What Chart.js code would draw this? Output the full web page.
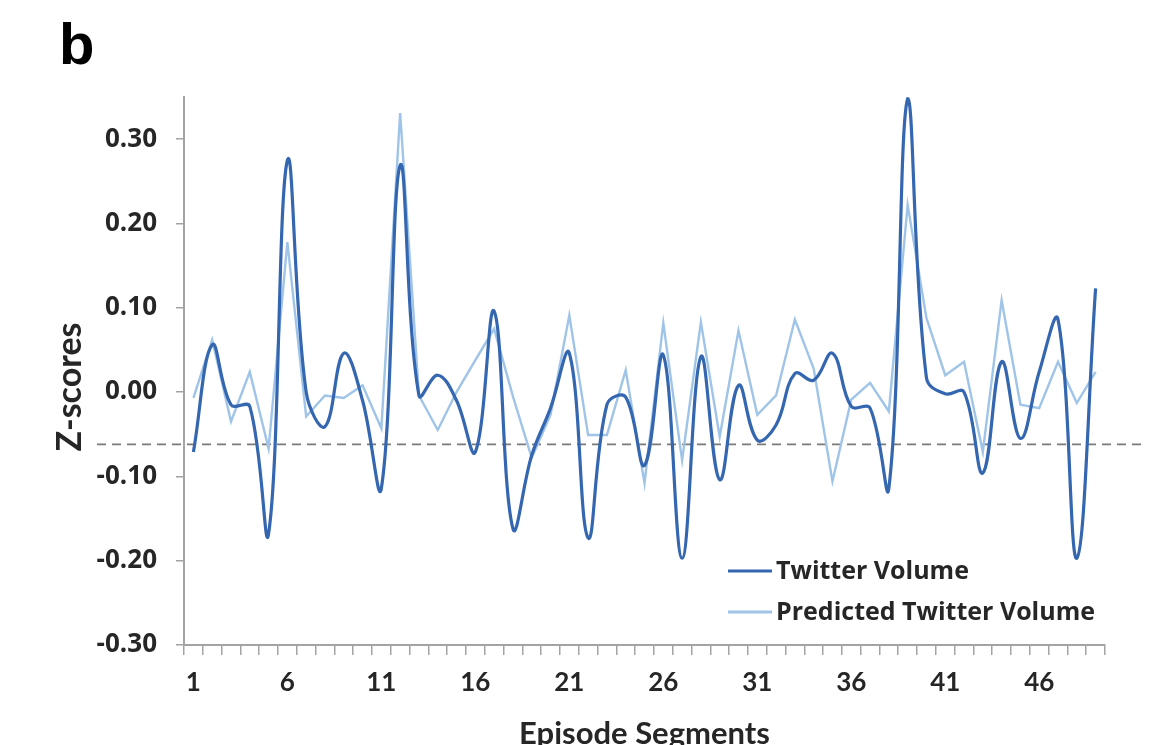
<!DOCTYPE html>
<html>
<head>
<meta charset="utf-8">
<script src="https://cdn.jsdelivr.net/npm/chart.js@4.4.1/dist/chart.umd.min.js"></script>
<style>
  html, body { margin: 0; padding: 0; background: #ffffff; }
  #wrap { width: 1154px; height: 745px; position: relative; }
</style>
</head>
<body>
<div id="wrap"><canvas id="chart" width="1154" height="745"></canvas></div>
<script>
// Episode segment numbers (x categories)
const segments = [];
for (let i = 1; i <= 49; i++) segments.push(String(i));

// Observed Twitter volume, z-scores per segment
const twitterVolume = [
  -0.071, 0.056, -0.015, -0.017, -0.168, 0.275, 0.000, -0.041, 0.046, -0.010,
  -0.114, 0.269, -0.004, 0.020, -0.010, -0.071, 0.096, -0.162, -0.075, -0.019,
  0.046, -0.173, -0.015, -0.006, -0.087, 0.044, -0.197, 0.042, -0.104, 0.008,
  -0.057, -0.039, 0.022, 0.014, 0.046, -0.017, -0.019, -0.114, 0.348, 0.017,
  -0.002, 0.000, -0.096, 0.036, -0.055, 0.024, 0.086, -0.197, 0.123
];

// Model-predicted Twitter volume, z-scores per segment
const predictedVolume = [
  -0.007, 0.062, -0.035, 0.024, -0.067, 0.178, -0.029, -0.004, -0.007, 0.008,
  -0.043, 0.331, -0.004, -0.045, 0.000, 0.038, 0.075, -0.005, -0.078, -0.027,
  0.091, -0.051, -0.051, 0.026, -0.108, 0.082, -0.081, 0.083, -0.053, 0.073,
  -0.027, -0.004, 0.086, 0.028, -0.106, -0.009, 0.011, -0.023, 0.222, 0.088,
  0.020, 0.036, -0.071, 0.109, -0.015, -0.019, 0.036, -0.013, 0.024
];

// Y-axis tick values
const yTickValues = [-0.30, -0.20, -0.10, 0.00, 0.10, 0.20, 0.30];

// Reference threshold drawn as a dashed horizontal line
const thresholdValue = -0.062;

// Label shown every fifth segment
const labelStep = 5;

const DARK = '#3566b0';
const LIGHT = '#9fc4e8';
const AXIS = '#a3a3a3';
const TEXT = '#262626';

const thresholdLine = {
  id: 'thresholdLine',
  beforeDatasetsDraw(chart) {
    const { ctx, scales: { y } } = chart;
    const py = y.getPixelForValue(thresholdValue);
    ctx.save();
    ctx.strokeStyle = '#7a7a7a';
    ctx.lineWidth = 1.6;
    ctx.setLineDash([9, 6]);
    ctx.beginPath();
    ctx.moveTo(97, py);
    ctx.lineTo(1143, py);
    ctx.stroke();
    ctx.restore();
  }
};

// Panel letter and rotated y-axis caption
const panelText = {
  id: 'panelText',
  afterDraw(chart) {
    const ctx = chart.ctx;
    ctx.save();
    ctx.fillStyle = '#000';
    ctx.font = 'bold 58px "Liberation Sans", Arial, sans-serif';
    ctx.textBaseline = 'alphabetic';
    ctx.textAlign = 'left';
    ctx.fillText('b', 59, 64);

    ctx.translate(70, 387);
    ctx.rotate(-Math.PI / 2);
    ctx.fillStyle = TEXT;
    ctx.font = 'bold 34px Lato, sans-serif';
    ctx.textAlign = 'center';
    ctx.textBaseline = 'middle';
    ctx.fillText('Z-scores', 0, 0);
    ctx.restore();
  }
};

const insetLegend = {
  id: 'insetLegend',
  afterDatasetsDraw(chart) {
    const ctx = chart.ctx;
    const rows = [571, 612];
    ctx.save();
    ctx.font = 'bold 25px "Open Sans", sans-serif';
    ctx.textBaseline = 'middle';
    ctx.textAlign = 'left';
    chart.data.datasets.forEach((ds, i) => {
      const yy = rows[i];
      ctx.strokeStyle = ds.borderColor;
      ctx.lineWidth = 3.2;
      ctx.setLineDash([]);
      ctx.beginPath();
      ctx.moveTo(728, yy);
      ctx.lineTo(772, yy);
      ctx.stroke();
      ctx.fillStyle = TEXT;
      ctx.fillText(ds.label, 776, yy + 1);
    });
    ctx.restore();
  }
};

new Chart(document.getElementById('chart'), {
  type: 'line',
  data: {
    labels: segments,
    datasets: [
      {
        label: 'Twitter Volume',
        data: twitterVolume,
        borderColor: DARK,
        borderWidth: 3.2,
        pointRadius: 0,
        tension: 0.4,
        fill: false
      },
      {
        label: 'Predicted Twitter Volume',
        data: predictedVolume,
        borderColor: LIGHT,
        borderWidth: 2.4,
        pointRadius: 0,
        tension: 0,
        fill: false
      }
    ]
  },
  options: {
    responsive: false,
    animation: false,
    events: [],
    layout: { padding: { top: 97, right: 49, bottom: 0, left: 0 } },
    plugins: {
      legend: { display: false },
      tooltip: { enabled: false },
      title: { display: false }
    },
    scales: {
      x: {
        type: 'category',
        offset: true,
        afterFit(scale) { scale.height = 100; },
        grid: {
          display: true,
          offset: true,
          drawOnChartArea: false,
          drawTicks: true,
          tickLength: 10,
          color: AXIS,
          lineWidth: 1.5
        },
        border: { display: true, color: AXIS, width: 2 },
        ticks: {
          autoSkip: false,
          maxRotation: 0,
          minRotation: 0,
          padding: 12,
          color: TEXT,
          font: { family: 'Lato', weight: 'bold', size: 26 },
          callback(value, index) {
            return index % labelStep === 0 ? this.getLabelForValue(value) : '';
          }
        },
        title: {
          display: true,
          text: 'Episode Segments',
          color: TEXT,
          font: { family: 'Lato', weight: 'bold', size: 31 },
          padding: { top: 0, bottom: -8 }
        }
      },
      y: {
        min: -0.30,
        max: 0.35,
        afterFit(scale) { scale.width = 184; },
        afterBuildTicks(scale) {
          scale.ticks = yTickValues.map(v => ({ value: v }));
        },
        grid: {
          display: true,
          drawOnChartArea: false,
          drawTicks: true,
          tickLength: 8,
          color: AXIS,
          lineWidth: 1.5
        },
        border: { display: true, color: AXIS, width: 2 },
        ticks: {
          padding: 19,
          color: TEXT,
          font: { family: 'Open Sans', weight: 'bold', size: 26 },
          callback(value) { return Number(value).toFixed(2); }
        },
        title: { display: false }
      }
    }
  },
  plugins: [thresholdLine, insetLegend, panelText]
});
</script>
</body>
</html>
